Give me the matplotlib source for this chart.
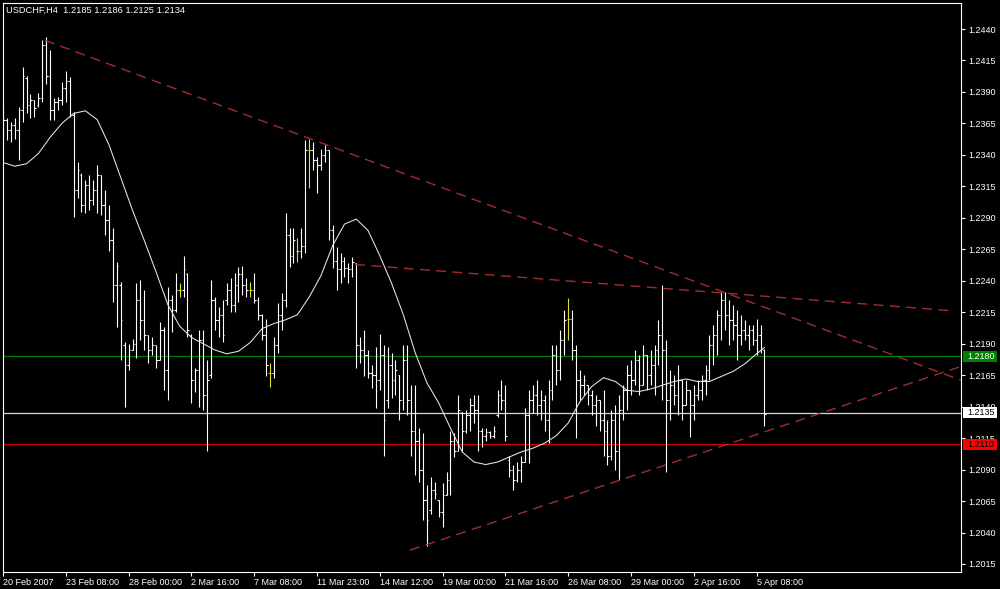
import numpy as np
import matplotlib.pyplot as plt
import matplotlib.transforms as mtransforms
from matplotlib.collections import LineCollection
from matplotlib.patches import Rectangle

plt.rcParams['font.family'] = ['Liberation Sans', 'DejaVu Sans']

# H4 bars, oldest first
opens = [
    1.2356, 1.2368, 1.2360, 1.2364, 1.2360, 1.2376, 1.2401, 1.2380, 1.2384, 1.2380,
    1.2385, 1.2427, 1.2403, 1.2376, 1.2382, 1.2384, 1.2393, 1.2399, 1.2372, 1.2312,
    1.2324, 1.2300, 1.2316, 1.2304, 1.2312, 1.2324, 1.2300, 1.2288, 1.2272, 1.2237,
    1.2237, 1.2189, 1.2173, 1.2185, 1.2190, 1.2225, 1.2209, 1.2197, 1.2185, 1.2189,
    1.2177, 1.2201, 1.2169, 1.2225, 1.2217, 1.2233, 1.2233, 1.2245, 1.2197, 1.2161,
    1.2169, 1.2193, 1.2149, 1.2165, 1.2225, 1.2209, 1.2213, 1.2225, 1.2233, 1.2221,
    1.2237, 1.2245, 1.2237, 1.2233, 1.2233, 1.2225, 1.2213, 1.2197, 1.2167, 1.2167,
    1.2189, 1.2213, 1.2225, 1.2276, 1.2260, 1.2264, 1.2264, 1.2268, 1.2344, 1.2344,
    1.2336, 1.2332, 1.2340, 1.2344, 1.2280, 1.2256, 1.2249, 1.2256, 1.2250, 1.2249,
    1.2254, 1.2189, 1.2185, 1.2181, 1.2167, 1.2165, 1.2161, 1.2181, 1.2145, 1.2173,
    1.2161, 1.2165, 1.2145, 1.2177, 1.2145, 1.2121, 1.2113, 1.2090, 1.2066, 1.2058,
    1.2074, 1.2066, 1.2056, 1.2070, 1.2082, 1.2113, 1.2105, 1.2136, 1.2121, 1.2133,
    1.2141, 1.2137, 1.2121, 1.2117, 1.2120, 1.2117, 1.2133, 1.2149, 1.2145, 1.2098,
    1.2090, 1.2082, 1.2090, 1.2096, 1.2133, 1.2145, 1.2149, 1.2141, 1.2145, 1.2129,
    1.2153, 1.2181, 1.2169, 1.2193, 1.2210, 1.2210, 1.2185, 1.2161, 1.2157, 1.2157,
    1.2149, 1.2141, 1.2145, 1.2129, 1.2121, 1.2101, 1.2129, 1.2105, 1.2137, 1.2153,
    1.2165, 1.2161, 1.2177, 1.2157, 1.2181, 1.2165, 1.2173, 1.2185, 1.2197, 1.2185,
    1.2145, 1.2157, 1.2149, 1.2161, 1.2141, 1.2153, 1.2141, 1.2149, 1.2153, 1.2161,
    1.2169, 1.2189, 1.2197, 1.2213, 1.2225, 1.2213, 1.2209, 1.2205, 1.2197, 1.2201,
    1.2197, 1.2201, 1.2193, 1.2197, 1.2185,
]
highs = [
    1.2376, 1.2369, 1.2366, 1.2369, 1.2378, 1.2410, 1.2403, 1.2388, 1.2384, 1.2389,
    1.2431, 1.2434, 1.2423, 1.2385, 1.2386, 1.2398, 1.2407, 1.2402, 1.2374, 1.2334,
    1.2326, 1.2320, 1.2324, 1.2320, 1.2332, 1.2324, 1.2312, 1.2300, 1.2282, 1.2255,
    1.2239, 1.2191, 1.2190, 1.2194, 1.2238, 1.2241, 1.2233, 1.2197, 1.2195, 1.2189,
    1.2207, 1.2203, 1.2235, 1.2229, 1.2246, 1.2238, 1.2260, 1.2246, 1.2198, 1.2171,
    1.2201, 1.2201, 1.2177, 1.2241, 1.2227, 1.2219, 1.2225, 1.2238, 1.2242, 1.2246,
    1.2251, 1.2252, 1.2242, 1.2239, 1.2246, 1.2227, 1.2214, 1.2210, 1.2175, 1.2195,
    1.2222, 1.2230, 1.2294, 1.2282, 1.2282, 1.2274, 1.2282, 1.2352, 1.2353, 1.2350,
    1.2338, 1.2345, 1.2348, 1.2344, 1.2284, 1.2267, 1.2262, 1.2259, 1.2254, 1.2259,
    1.2254, 1.2195, 1.2201, 1.2185, 1.2173, 1.2187, 1.2198, 1.2189, 1.2187, 1.2183,
    1.2177, 1.2165, 1.2189, 1.2189, 1.2157, 1.2157, 1.2123, 1.2119, 1.2078, 1.2084,
    1.2080, 1.2066, 1.2079, 1.2088, 1.2121, 1.2119, 1.2149, 1.2136, 1.2137, 1.2147,
    1.2149, 1.2149, 1.2123, 1.2123, 1.2121, 1.2125, 1.2153, 1.2161, 1.2157, 1.2101,
    1.2094, 1.2096, 1.2101, 1.2139, 1.2153, 1.2157, 1.2161, 1.2153, 1.2149, 1.2161,
    1.2189, 1.2189, 1.2201, 1.2217, 1.2226, 1.2217, 1.2189, 1.2169, 1.2165, 1.2157,
    1.2153, 1.2149, 1.2145, 1.2153, 1.2129, 1.2137, 1.2141, 1.2149, 1.2157, 1.2173,
    1.2177, 1.2185, 1.2181, 1.2189, 1.2181, 1.2185, 1.2189, 1.2209, 1.2237, 1.2193,
    1.2169, 1.2165, 1.2173, 1.2161, 1.2161, 1.2153, 1.2157, 1.2161, 1.2165, 1.2173,
    1.2197, 1.2205, 1.2217, 1.2231, 1.2231, 1.2225, 1.2221, 1.2217, 1.2213, 1.2209,
    1.2205, 1.2205, 1.2210, 1.2205, 1.2186,
]
lows = [
    1.2349, 1.2352, 1.2350, 1.2353, 1.2336, 1.2366, 1.2373, 1.2369, 1.2370, 1.2378,
    1.2382, 1.2396, 1.2368, 1.2368, 1.2376, 1.2380, 1.2382, 1.2370, 1.2291, 1.2306,
    1.2295, 1.2294, 1.2296, 1.2300, 1.2294, 1.2292, 1.2276, 1.2264, 1.2223, 1.2203,
    1.2177, 1.2140, 1.2169, 1.2185, 1.2179, 1.2193, 1.2185, 1.2175, 1.2181, 1.2171,
    1.2177, 1.2153, 1.2145, 1.2199, 1.2215, 1.2227, 1.2227, 1.2195, 1.2143, 1.2152,
    1.2140, 1.2137, 1.2105, 1.2163, 1.2201, 1.2195, 1.2191, 1.2221, 1.2215, 1.2215,
    1.2223, 1.2229, 1.2227, 1.2227, 1.2222, 1.2209, 1.2193, 1.2164, 1.2156, 1.2163,
    1.2183, 1.2201, 1.2219, 1.2251, 1.2254, 1.2255, 1.2258, 1.2262, 1.2314, 1.2328,
    1.2310, 1.2328, 1.2334, 1.2272, 1.2250, 1.2233, 1.2238, 1.2243, 1.2238, 1.2243,
    1.2171, 1.2175, 1.2164, 1.2163, 1.2155, 1.2139, 1.2153, 1.2101, 1.2139, 1.2147,
    1.2149, 1.2129, 1.2137, 1.2133, 1.2101, 1.2086, 1.2080, 1.2050, 1.2029, 1.2055,
    1.2067, 1.2052, 1.2044, 1.2070, 1.2070, 1.2100, 1.2105, 1.2105, 1.2119, 1.2121,
    1.2127, 1.2105, 1.2108, 1.2113, 1.2115, 1.2115, 1.2132, 1.2137, 1.2113, 1.2084,
    1.2074, 1.2080, 1.2080, 1.2096, 1.2095, 1.2135, 1.2133, 1.2129, 1.2121, 1.2111,
    1.2145, 1.2157, 1.2161, 1.2181, 1.2193, 1.2177, 1.2115, 1.2145, 1.2149, 1.2141,
    1.2133, 1.2125, 1.2121, 1.2101, 1.2094, 1.2098, 1.2090, 1.2082, 1.2129, 1.2137,
    1.2149, 1.2157, 1.2149, 1.2157, 1.2153, 1.2157, 1.2149, 1.2173, 1.2145, 1.2088,
    1.2129, 1.2141, 1.2133, 1.2129, 1.2141, 1.2116, 1.2129, 1.2145, 1.2145, 1.2149,
    1.2161, 1.2173, 1.2181, 1.2193, 1.2201, 1.2189, 1.2193, 1.2177, 1.2189, 1.2193,
    1.2185, 1.2189, 1.2181, 1.2183, 1.2125,
]
closes = [
    1.2368, 1.2360, 1.2364, 1.2360, 1.2376, 1.2403, 1.2380, 1.2384, 1.2377, 1.2385,
    1.2427, 1.2403, 1.2376, 1.2382, 1.2384, 1.2393, 1.2399, 1.2372, 1.2312, 1.2328,
    1.2300, 1.2316, 1.2304, 1.2312, 1.2324, 1.2300, 1.2288, 1.2272, 1.2237, 1.2252,
    1.2209, 1.2173, 1.2185, 1.2190, 1.2225, 1.2209, 1.2197, 1.2185, 1.2189, 1.2177,
    1.2201, 1.2169, 1.2225, 1.2217, 1.2233, 1.2233, 1.2249, 1.2201, 1.2161, 1.2169,
    1.2193, 1.2149, 1.2161, 1.2225, 1.2209, 1.2213, 1.2197, 1.2233, 1.2221, 1.2237,
    1.2245, 1.2237, 1.2233, 1.2233, 1.2225, 1.2213, 1.2197, 1.2173, 1.2167, 1.2189,
    1.2213, 1.2225, 1.2276, 1.2260, 1.2272, 1.2264, 1.2268, 1.2344, 1.2344, 1.2336,
    1.2332, 1.2340, 1.2344, 1.2280, 1.2256, 1.2249, 1.2256, 1.2250, 1.2249, 1.2255,
    1.2189, 1.2185, 1.2181, 1.2167, 1.2165, 1.2161, 1.2181, 1.2129, 1.2173, 1.2161,
    1.2169, 1.2145, 1.2177, 1.2145, 1.2121, 1.2113, 1.2090, 1.2066, 1.2050, 1.2074,
    1.2071, 1.2056, 1.2070, 1.2082, 1.2113, 1.2105, 1.2137, 1.2121, 1.2133, 1.2141,
    1.2137, 1.2121, 1.2117, 1.2120, 1.2117, 1.2121, 1.2149, 1.2145, 1.2117, 1.2090,
    1.2082, 1.2090, 1.2096, 1.2133, 1.2145, 1.2149, 1.2141, 1.2145, 1.2129, 1.2153,
    1.2181, 1.2169, 1.2193, 1.2209, 1.2210, 1.2185, 1.2161, 1.2157, 1.2161, 1.2149,
    1.2141, 1.2145, 1.2129, 1.2121, 1.2101, 1.2129, 1.2105, 1.2137, 1.2153, 1.2165,
    1.2161, 1.2177, 1.2157, 1.2181, 1.2165, 1.2173, 1.2185, 1.2197, 1.2185, 1.2145,
    1.2157, 1.2149, 1.2161, 1.2141, 1.2153, 1.2141, 1.2149, 1.2153, 1.2161, 1.2169,
    1.2189, 1.2197, 1.2213, 1.2225, 1.2213, 1.2209, 1.2205, 1.2197, 1.2201, 1.2197,
    1.2201, 1.2193, 1.2197, 1.2186, 1.2134,
]

# smoothed moving average (bar index, price)
maIdx = list(range(0, 193, 3)) + [194]
maVal = [
    1.2334, 1.2331, 1.2333, 1.2341, 1.2354, 1.2365, 1.2373, 1.2375, 1.2368, 1.2348,
    1.2322, 1.2296, 1.2272, 1.2247, 1.2221, 1.2204, 1.2195, 1.2190, 1.2185, 1.2182,
    1.2184, 1.2191, 1.2202, 1.2206, 1.2209, 1.2213, 1.2227, 1.2244, 1.2268, 1.2285,
    1.2289, 1.2280, 1.2260, 1.2238, 1.2213, 1.2183, 1.2159, 1.2143, 1.2123, 1.2104,
    1.2096, 1.2094, 1.2096, 1.2100, 1.2104, 1.2107, 1.2111, 1.2117, 1.2127, 1.2144,
    1.2156, 1.2163, 1.2160, 1.2153, 1.2152, 1.2154, 1.2157, 1.2160, 1.2162, 1.2160,
    1.2160, 1.2164, 1.2168, 1.2174, 1.2182, 1.2187,
]

tickIdx = [0, 16, 32, 48, 64, 80, 96, 112, 128, 144, 160, 176, 192]
tickLabels = ['20 Feb 2007', '23 Feb 08:00', '28 Feb 00:00', '2 Mar 16:00',
              '7 Mar 08:00', '11 Mar 23:00', '14 Mar 12:00', '19 Mar 00:00',
              '21 Mar 16:00', '26 Mar 08:00', '29 Mar 00:00', '2 Apr 16:00',
              '5 Apr 08:00']
priceTicks = [1.2440, 1.2415, 1.2390, 1.2365, 1.2340, 1.2315, 1.2290, 1.2265,
              1.2240, 1.2215, 1.2190, 1.2165, 1.2140, 1.2115, 1.2090, 1.2065,
              1.2040, 1.2015]

# trend lines: (start bar, start price, end bar, end price)
trendLines = [
    (10.7, 1.2431, 244.1, 1.2161),
    (89.7, 1.2253, 242.5, 1.2216),
    (103.7, 1.2026, 244.1, 1.2172),
]
hLevels = [1.2180, 1.2135, 1.2110]
hColors = ['#008000', '#d8d8d8', '#d40000']
boxColors = ['#008000', '#ffffff', '#ff0000']
boxText = ['#ffffff', '#000000', '#000000']


def drawChart():
    fig = plt.figure(figsize=(10, 5.89), dpi=100, facecolor='black')
    ax = fig.add_axes([0.0025, 0.0297, 0.9585, 0.9660])
    ax.set_facecolor('black')

    segs = []
    cols = []
    for i, (o, h, l, c) in enumerate(zip(opens, highs, lows, closes)):
        col = '#e0e020' if o == c else '#ffffff'
        segs += [((i, l), (i, h)), ((i - 0.4, o), (i, o)), ((i, c), (i + 0.4, c))]
        cols += [col] * 3
    ax.add_collection(LineCollection(segs, colors=cols, linewidths=0.8, zorder=3))

    ax.plot(maIdx, maVal, color='#e8e8e8', lw=0.75, zorder=4)

    for lvl, col in zip(hLevels, hColors):
        ax.axhline(lvl, color=col, lw=0.9, zorder=1)

    for x0, y0, x1, y1 in trendLines:
        ax.plot([x0, x1], [y0, y1], color='#a32c2c', lw=1.0,
                dashes=(7.2, 4.5), zorder=4)

    ax.set_xlim(-0.127, 244.08)
    ax.set_ylim(1.200903, 1.246105)

    ax.set_xticks(tickIdx)
    ax.set_xticklabels(tickLabels, ha='left')
    ax.tick_params(axis='x', colors='white', labelsize=6.5, length=3,
                   width=0.8, direction='out', pad=2)

    ax.yaxis.tick_right()
    ax.set_yticks(priceTicks)
    ax.set_yticklabels(['%.4f' % p for p in priceTicks])
    ax.tick_params(axis='y', colors='white', labelsize=6.5, length=3,
                   width=0.8, direction='out', pad=2)

    for s in ax.spines.values():
        s.set_color('white')
        s.set_linewidth(0.8)

    ax.text(0.0037, 0.9868, 'USDCHF,H4  1.2185 1.2186 1.2125 1.2134',
            transform=ax.transAxes, color='white', fontsize=6.7, va='center')

    # price labels of the horizontal lines, drawn over the axis scale
    trans = mtransforms.blended_transform_factory(fig.transFigure, ax.transData)
    for lvl, fc, tc in zip(hLevels, boxColors, boxText):
        fig.add_artist(Rectangle((0.963, lvl - 0.00044), 0.034, 0.00088,
                                 transform=trans, facecolor=fc,
                                 edgecolor='none', zorder=5))
        fig.text(0.967, lvl, '%.4f' % lvl, transform=trans, color=tc,
                 fontsize=6.5, va='center', ha='left', zorder=6)

    fig.savefig('out.png', dpi=100, facecolor='black')


if __name__ == '__main__':
    drawChart()
